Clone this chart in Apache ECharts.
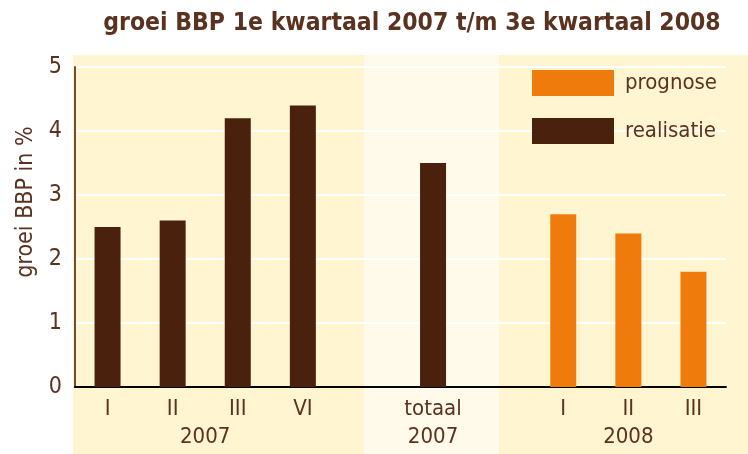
<!DOCTYPE html>
<html>
<head>
<meta charset="utf-8">
<script src="https://cdn.jsdelivr.net/npm/echarts@6/dist/echarts.min.js"></script>
<style>
  html, body { margin: 0; padding: 0; background: #fff; }
  #main { width: 748px; height: 454px; }
</style>
</head>
<body>
<div id="main"></div>
<script>
// categorieen op de x-as (lege plekken tussen de groepen)
var categories = ['I', 'II', 'III', 'VI', '', 'totaal', '', 'I', 'II', 'III'];
// realisatie (2007) en prognose (2008), groei in %
var realisatie = [2.5, 2.6, 4.2, 4.4, '-', 3.5, '-', '-', '-', '-'];
var prognose = ['-', '-', '-', '-', '-', '-', '-', 2.7, 2.4, 1.8];
// jaartallen onder de groepen: eerste en laatste categorie-index
var groupLabels = ['2007', '2007', '2008'];
var groupFirst = [0, 5, 7];
var groupLast = [3, 5, 9];
var yTicks = [0, 1, 2, 3, 4, 5];

var brown = '#4a210d';
var orange = '#ee7b0b';
var textColor = '#5a3220';
var font = 'DejaVu Sans Condensed';

// positie van jaartal in halve categorie-eenheden
var groupMap = {};
groupLabels.forEach(function (lab, i) {
  groupMap[groupFirst[i] + groupLast[i] + 1] = lab;
});

var chart = echarts.init(document.getElementById('main'));
var option = {
  animation: false,
  textStyle: { fontFamily: font },
  title: {
    text: 'groei BBP 1e kwartaal 2007 t/m 3e kwartaal 2008',
    left: 407,
    textAlign: 'center',
    top: 6,
    textStyle: { color: textColor, fontSize: 24.5, fontWeight: 'bold', fontFamily: font }
  },
  graphic: [
    { type: 'rect', z: -10, shape: { x: 73, y: 55, width: 675, height: 399 }, style: { fill: '#fff5d0' } },
    { type: 'rect', z: -9, shape: { x: 364, y: 55, width: 135, height: 399 }, style: { fill: '#fffaea' } }
  ],
  legend: {
    orient: 'vertical',
    left: 532,
    top: 70,
    padding: 0,
    itemWidth: 82,
    itemHeight: 26,
    itemGap: 22,
    icon: 'rect',
    data: ['prognose', 'realisatie'],
    textStyle: { color: textColor, fontSize: 22, fontFamily: font, padding: [0, 0, 0, 6] }
  },
  grid: { left: 75, right: 22, top: 67, bottom: 67, containLabel: false, outerBoundsMode: 'none' },
  xAxis: [{
    type: 'category',
    data: categories,
    axisLine: { lineStyle: { color: '#000', width: 2 } },
    axisTick: { show: false },
    axisLabel: { color: textColor, fontSize: 22, margin: 11, interval: 0, fontFamily: font }
  }, {
    type: 'value',
    position: 'bottom',
    min: 0,
    max: categories.length * 2,
    interval: 1,
    axisLine: { show: false },
    axisTick: { show: false },
    splitLine: { show: false },
    axisLabel: {
      color: textColor, fontSize: 22, margin: 39, fontFamily: font,
      showMinLabel: true, showMaxLabel: true,
      formatter: function (v) { return groupMap[v] || ''; }
    }
  }],
  yAxis: {
    type: 'value',
    min: 0,
    max: 5,
    interval: 1,
    name: 'groei BBP in %',
    nameLocation: 'middle',
    nameGap: 36,
    nameTextStyle: { color: textColor, fontSize: 23, fontFamily: font, padding: [0, 0, 0, 50] },
    axisLine: { show: true, lineStyle: { color: '#7a4a30', width: 2 } },
    axisTick: { show: false },
    axisLabel: {
      color: textColor, fontSize: 23, margin: 13, fontFamily: font,
      formatter: function (v) { return yTicks.indexOf(v) >= 0 ? String(v) : ''; }
    },
    splitLine: { lineStyle: { color: '#ffffff', width: 2 } }
  },
  series: [{
    name: 'realisatie',
    type: 'bar',
    stack: 'groei',
    barWidth: 26,
    itemStyle: { color: brown },
    data: realisatie
  }, {
    name: 'prognose',
    type: 'bar',
    stack: 'groei',
    barWidth: 26,
    itemStyle: { color: orange },
    data: prognose
  }]
};
chart.setOption(option);
</script>
</body>
</html>
